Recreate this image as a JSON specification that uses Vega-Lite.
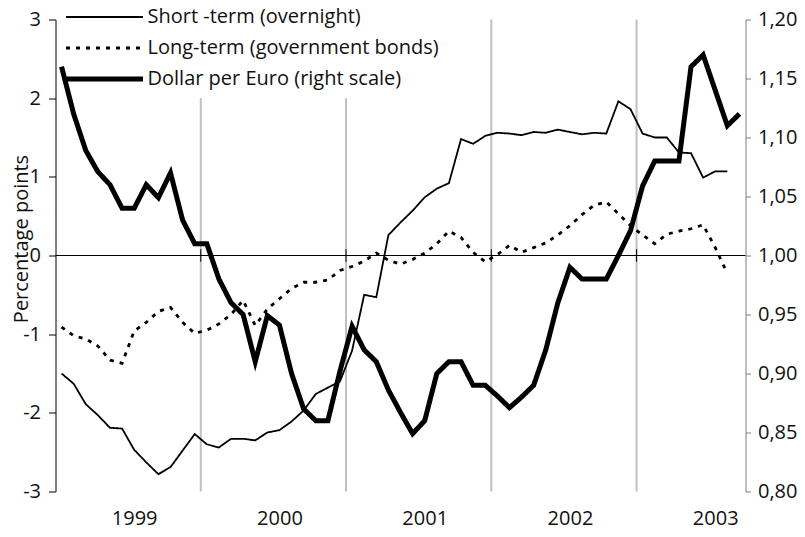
{
  "$schema": "https://vega.github.io/schema/vega-lite/v6.json",
  "width": 690,
  "height": 472,
  "autosize": "none",
  "padding": {"left": 55.5, "top": 19.5, "right": 59.5, "bottom": 45.5},
  "background": "white",
  "config": {
    "view": {"stroke": null},
    "font": "Open Sans",
    "axis": {"grid": false, "labelFont": "Open Sans", "titleFont": "Open Sans"}
  },
  "datasets": {
    "rates": [
      {"t":0,"series":"short","value":-1.50},{"t":1,"series":"short","value":-1.63},{"t":2,"series":"short","value":-1.89},{"t":3,"series":"short","value":-2.03},{"t":4,"series":"short","value":-2.19},{"t":5,"series":"short","value":-2.20},{"t":6,"series":"short","value":-2.47},{"t":7,"series":"short","value":-2.63},{"t":8,"series":"short","value":-2.78},{"t":9,"series":"short","value":-2.69},{"t":10,"series":"short","value":-2.48},{"t":11,"series":"short","value":-2.27},
      {"t":12,"series":"short","value":-2.40},{"t":13,"series":"short","value":-2.44},{"t":14,"series":"short","value":-2.33},{"t":15,"series":"short","value":-2.33},{"t":16,"series":"short","value":-2.35},{"t":17,"series":"short","value":-2.25},{"t":18,"series":"short","value":-2.22},{"t":19,"series":"short","value":-2.11},{"t":20,"series":"short","value":-1.97},{"t":21,"series":"short","value":-1.76},{"t":22,"series":"short","value":-1.68},{"t":23,"series":"short","value":-1.60},
      {"t":24,"series":"short","value":-1.21},{"t":25,"series":"short","value":-0.50},{"t":26,"series":"short","value":-0.53},{"t":27,"series":"short","value":0.26},{"t":28,"series":"short","value":0.42},{"t":29,"series":"short","value":0.57},{"t":30,"series":"short","value":0.74},{"t":31,"series":"short","value":0.85},{"t":32,"series":"short","value":0.92},{"t":33,"series":"short","value":1.48},{"t":34,"series":"short","value":1.42},{"t":35,"series":"short","value":1.52},
      {"t":36,"series":"short","value":1.56},{"t":37,"series":"short","value":1.55},{"t":38,"series":"short","value":1.53},{"t":39,"series":"short","value":1.57},{"t":40,"series":"short","value":1.56},{"t":41,"series":"short","value":1.60},{"t":42,"series":"short","value":1.57},{"t":43,"series":"short","value":1.54},{"t":44,"series":"short","value":1.56},{"t":45,"series":"short","value":1.55},{"t":46,"series":"short","value":1.96},{"t":47,"series":"short","value":1.86},
      {"t":48,"series":"short","value":1.55},{"t":49,"series":"short","value":1.50},{"t":50,"series":"short","value":1.50},{"t":51,"series":"short","value":1.31},{"t":52,"series":"short","value":1.30},{"t":53,"series":"short","value":0.99},{"t":54,"series":"short","value":1.07},{"t":55,"series":"short","value":1.07},
      {"t":0,"series":"long","value":-0.91},{"t":1,"series":"long","value":-1.02},{"t":2,"series":"long","value":-1.06},{"t":3,"series":"long","value":-1.15},{"t":4,"series":"long","value":-1.33},{"t":5,"series":"long","value":-1.37},{"t":6,"series":"long","value":-0.96},{"t":7,"series":"long","value":-0.85},{"t":8,"series":"long","value":-0.71},{"t":9,"series":"long","value":-0.66},{"t":10,"series":"long","value":-0.85},{"t":11,"series":"long","value":-0.99},
      {"t":12,"series":"long","value":-0.95},{"t":13,"series":"long","value":-0.87},{"t":14,"series":"long","value":-0.75},{"t":15,"series":"long","value":-0.57},{"t":16,"series":"long","value":-0.89},{"t":17,"series":"long","value":-0.68},{"t":18,"series":"long","value":-0.55},{"t":19,"series":"long","value":-0.42},{"t":20,"series":"long","value":-0.34},{"t":21,"series":"long","value":-0.34},{"t":22,"series":"long","value":-0.31},{"t":23,"series":"long","value":-0.19},
      {"t":24,"series":"long","value":-0.14},{"t":25,"series":"long","value":-0.07},{"t":26,"series":"long","value":0.03},{"t":27,"series":"long","value":-0.06},{"t":28,"series":"long","value":-0.11},{"t":29,"series":"long","value":-0.05},{"t":30,"series":"long","value":0.03},{"t":31,"series":"long","value":0.15},{"t":32,"series":"long","value":0.31},{"t":33,"series":"long","value":0.23},{"t":34,"series":"long","value":0.04},{"t":35,"series":"long","value":-0.08},
      {"t":36,"series":"long","value":0.01},{"t":37,"series":"long","value":0.13},{"t":38,"series":"long","value":0.04},{"t":39,"series":"long","value":0.10},{"t":40,"series":"long","value":0.16},{"t":41,"series":"long","value":0.26},{"t":42,"series":"long","value":0.38},{"t":43,"series":"long","value":0.52},{"t":44,"series":"long","value":0.64},{"t":45,"series":"long","value":0.68},{"t":46,"series":"long","value":0.53},{"t":47,"series":"long","value":0.38},
      {"t":48,"series":"long","value":0.26},{"t":49,"series":"long","value":0.15},{"t":50,"series":"long","value":0.27},{"t":51,"series":"long","value":0.31},{"t":52,"series":"long","value":0.34},{"t":53,"series":"long","value":0.39},{"t":54,"series":"long","value":0.10},{"t":55,"series":"long","value":-0.23}
    ],
    "fx": [
      {"t":0,"series":"fx","value":1.160},{"t":1,"series":"fx","value":1.120},{"t":2,"series":"fx","value":1.089},{"t":3,"series":"fx","value":1.071},{"t":4,"series":"fx","value":1.060},{"t":5,"series":"fx","value":1.040},{"t":6,"series":"fx","value":1.040},{"t":7,"series":"fx","value":1.060},{"t":8,"series":"fx","value":1.049},{"t":9,"series":"fx","value":1.070},{"t":10,"series":"fx","value":1.030},{"t":11,"series":"fx","value":1.010},
      {"t":12,"series":"fx","value":1.010},{"t":13,"series":"fx","value":0.980},{"t":14,"series":"fx","value":0.960},{"t":15,"series":"fx","value":0.950},{"t":16,"series":"fx","value":0.910},{"t":17,"series":"fx","value":0.949},{"t":18,"series":"fx","value":0.941},{"t":19,"series":"fx","value":0.900},{"t":20,"series":"fx","value":0.870},{"t":21,"series":"fx","value":0.860},{"t":22,"series":"fx","value":0.860},{"t":23,"series":"fx","value":0.902},
      {"t":24,"series":"fx","value":0.940},{"t":25,"series":"fx","value":0.920},{"t":26,"series":"fx","value":0.910},{"t":27,"series":"fx","value":0.886},{"t":28,"series":"fx","value":0.867},{"t":29,"series":"fx","value":0.849},{"t":30,"series":"fx","value":0.860},{"t":31,"series":"fx","value":0.900},{"t":32,"series":"fx","value":0.910},{"t":33,"series":"fx","value":0.910},{"t":34,"series":"fx","value":0.890},{"t":35,"series":"fx","value":0.890},
      {"t":36,"series":"fx","value":0.881},{"t":37,"series":"fx","value":0.871},{"t":38,"series":"fx","value":0.880},{"t":39,"series":"fx","value":0.890},{"t":40,"series":"fx","value":0.920},{"t":41,"series":"fx","value":0.960},{"t":42,"series":"fx","value":0.990},{"t":43,"series":"fx","value":0.980},{"t":44,"series":"fx","value":0.980},{"t":45,"series":"fx","value":0.980},{"t":46,"series":"fx","value":1.000},{"t":47,"series":"fx","value":1.021},
      {"t":48,"series":"fx","value":1.059},{"t":49,"series":"fx","value":1.080},{"t":50,"series":"fx","value":1.080},{"t":51,"series":"fx","value":1.080},{"t":52,"series":"fx","value":1.160},{"t":53,"series":"fx","value":1.170},{"t":54,"series":"fx","value":1.140},{"t":55,"series":"fx","value":1.110},{"t":56,"series":"fx","value":1.120}
    ],
    "grid": [
      {"t":11.5,"value":-3,"value2":2.0},{"t":23.5,"value":-3,"value2":2.0},{"t":35.5,"value":-3,"value2":3},{"t":47.5,"value":-3,"value2":3}
    ],
    "yearticks": [
      {"t":11.5,"value":-0.08,"value2":0.08},{"t":23.5,"value":-0.08,"value2":0.08},{"t":35.5,"value":-0.08,"value2":0.08},{"t":47.5,"value":-0.08,"value2":0.08}
    ],
    "zero": [
      {"t":-0.5,"t2":56.5,"value":0}
    ]
  },
  "layer": [
    {
      "encoding": {
        "x": {
          "field": "t", "type": "quantitative",
          "scale": {"domain": [-0.5, 56.5], "nice": false, "zero": false},
          "axis": {"values": [6, 18, 30, 42, 54], "labelExpr": "'' + (1999 + floor(datum.value / 12))", "ticks": false, "domain": false, "grid": false, "title": null, "labelFontSize": 20, "labelColor": "#111111", "labelPadding": 17, "labelFlush": false}
        },
        "y": {
          "field": "value", "type": "quantitative",
          "scale": {"domain": [-3, 3], "nice": false, "zero": false},
          "axis": {"values": [-3, -2, -1, 0, 1, 2, 3], "labelExpr": "'' + datum.value", "domainColor": "#000000", "tickColor": "#000000", "tickSize": 7, "labelFontSize": 20, "labelColor": "#111111", "labelPadding": 8, "title": "Percentage points", "titleFontSize": 20, "titleFontWeight": "normal", "titleColor": "#111111", "titleX": -24, "titleY": 219, "titleBaseline": "bottom"}
        }
      },
      "layer": [
        {
          "data": {"name": "grid"},
          "mark": {"type": "rule", "color": "#c0c0c0", "strokeWidth": 2},
          "encoding": {"y2": {"field": "value2"}}
        },
        {
          "data": {"name": "zero"},
          "mark": {"type": "rule", "color": "#000000", "strokeWidth": 1},
          "encoding": {"x2": {"field": "t2"}}
        },
        {
          "data": {"name": "yearticks"},
          "mark": {"type": "rule", "color": "#000000", "strokeWidth": 1},
          "encoding": {"y2": {"field": "value2"}}
        },
        {
          "data": {"name": "rates"},
          "mark": {"type": "line", "color": "#000000", "strokeJoin": "miter"},
          "encoding": {
            "detail": {"field": "series"},
            "strokeDash": {
              "field": "series", "type": "nominal",
              "scale": {"type": "ordinal", "domain": ["short", "long", "fx"], "range": [[1, 0], [4, 6], [1, 0]]},
              "legend": {"orient": "none", "legendX": 8, "legendY": -18, "title": null, "symbolType": "stroke", "symbolSize": 5929, "symbolStrokeColor": "#000000", "clipHeight": 31, "rowPadding": 0, "padding": 0, "labelFontSize": 20, "labelFont": "Open Sans", "labelColor": "#111111", "labelOffset": 2, "labelLimit": 500, "labelExpr": "datum.label == 'short' ? 'Short -term (overnight)' : datum.label == 'long' ? 'Long-term (government bonds)' : 'Dollar per Euro (right scale)'"}
            },
            "strokeWidth": {
              "field": "series", "type": "nominal",
              "scale": {"type": "ordinal", "domain": ["short", "long", "fx"], "range": [1.8, 2.8, 5]},
              "legend": {"orient": "none", "legendX": 8, "legendY": -18, "title": null, "symbolType": "stroke", "symbolSize": 5929, "symbolStrokeColor": "#000000", "clipHeight": 31, "rowPadding": 0, "padding": 0, "labelFontSize": 20, "labelFont": "Open Sans", "labelColor": "#111111", "labelOffset": 2, "labelLimit": 500, "labelExpr": "datum.label == 'short' ? 'Short -term (overnight)' : datum.label == 'long' ? 'Long-term (government bonds)' : 'Dollar per Euro (right scale)'"}
            }
          }
        }
      ]
    },
    {
      "data": {"name": "fx"},
      "mark": {"type": "line", "color": "#000000", "strokeJoin": "miter"},
      "encoding": {
        "x": {
          "field": "t", "type": "quantitative",
          "scale": {"domain": [-0.5, 56.5], "nice": false, "zero": false},
          "axis": {"values": [6, 18, 30, 42, 54], "labelExpr": "'' + (1999 + floor(datum.value / 12))", "ticks": false, "domain": false, "grid": false, "title": null, "labelFontSize": 20, "labelColor": "#111111", "labelPadding": 17, "labelFlush": false}
        },
        "y": {
          "field": "value", "type": "quantitative",
          "scale": {"domain": [0.8, 1.2], "nice": false, "zero": false},
          "axis": {"orient": "right", "values": [0.8, 0.85, 0.9, 0.95, 1.0, 1.05, 1.1, 1.15, 1.2], "labelExpr": "replace(format(datum.value, '.2f'), '.', ',')", "domainColor": "#7f7f7f", "tickColor": "#7f7f7f", "tickSize": 5, "labelFontSize": 20, "labelColor": "#111111", "labelPadding": 7, "title": null, "grid": false}
        },
        "strokeDash": {
          "field": "series", "type": "nominal",
          "scale": {"type": "ordinal", "domain": ["short", "long", "fx"], "range": [[1, 0], [4, 6], [1, 0]]},
          "legend": {"orient": "none", "legendX": 8, "legendY": -18, "title": null, "symbolType": "stroke", "symbolSize": 5929, "symbolStrokeColor": "#000000", "clipHeight": 31, "rowPadding": 0, "padding": 0, "labelFontSize": 20, "labelFont": "Open Sans", "labelColor": "#111111", "labelOffset": 2, "labelLimit": 500, "labelExpr": "datum.label == 'short' ? 'Short -term (overnight)' : datum.label == 'long' ? 'Long-term (government bonds)' : 'Dollar per Euro (right scale)'"}
        },
        "strokeWidth": {
          "field": "series", "type": "nominal",
          "scale": {"type": "ordinal", "domain": ["short", "long", "fx"], "range": [1.8, 2.8, 5]},
          "legend": {"orient": "none", "legendX": 8, "legendY": -18, "title": null, "symbolType": "stroke", "symbolSize": 5929, "symbolStrokeColor": "#000000", "clipHeight": 31, "rowPadding": 0, "padding": 0, "labelFontSize": 20, "labelFont": "Open Sans", "labelColor": "#111111", "labelOffset": 2, "labelLimit": 500, "labelExpr": "datum.label == 'short' ? 'Short -term (overnight)' : datum.label == 'long' ? 'Long-term (government bonds)' : 'Dollar per Euro (right scale)'"}
        }
      }
    }
  ],
  "resolve": {"scale": {"y": "independent"}}
}
